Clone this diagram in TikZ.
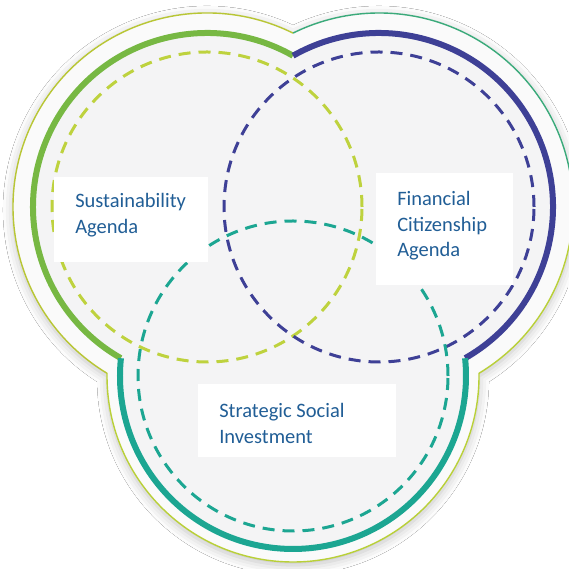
\documentclass[tikz,border=0pt]{standalone}
\usepackage{fontspec}
\setmainfont{Carlito}
\usetikzlibrary{shadows.blur}
\tikzset{
    every picture/.style={
        line width=0.2mm
    },
    % Thick outer segment of each circle
    ring arc/.style={line width=6pt},
    % Inner dashed circle
    ring dash/.style={line width=3pt, dash pattern=on 12pt off 8pt},
    rim line/.style={line width=1.4pt},
    % Style for the white label boxes
    area box/.style={fill=white},
    area label/.style={
        font=\fontsize{20.5}{25.5}\selectfont,
        text=labelBlue,
        align=left,
        anchor=north west,
        inner sep=0pt
    }
}
\definecolor{labelBlue}{RGB}{33,94,150}
\definecolor{rimFill}{RGB}{250,250,250}
\definecolor{innerFill}{RGB}{244,244,245}
\definecolor{rimOlive}{RGB}{184,198,52}
\definecolor{rimLime}{RGB}{185,208,56}
\definecolor{rimGreen}{RGB}{58,170,122}
\definecolor{greenLine}{RGB}{119,184,67}
\definecolor{limeDash}{RGB}{190,210,62}
\definecolor{navyLine}{RGB}{62,64,150}
\definecolor{tealLine}{RGB}{28,166,146}

\begin{document}
\begin{tikzpicture}[x=1pt,y=1pt]

% Set the canvas size
\fill[white] (0,0) rectangle (568,569);
\path[use as bounding box] (0,0) rectangle (568,569);

% Centres of the three circles
\coordinate (sus) at (207,362);
\coordinate (fin) at (379,362);
\coordinate (soc) at (293,193);

% Shaded outer rim
\fill[rimFill, blur shadow={shadow xshift=0pt, shadow yshift=-3pt, shadow blur radius=10pt, shadow opacity=25}]
    (sus) ++(63.7:194) arc[start angle=63.7, end angle=239, radius=194]
    arc[start angle=179.1, end angle=360.9, radius=186]
    arc[start angle=-59, end angle=116.3, radius=194] -- cycle;

\draw[rim line, rimOlive] (sus) ++(63.7:194) arc[start angle=63.7, end angle=239, radius=194];
\draw[rim line, rimLime] (soc) ++(179.1:186) arc[start angle=179.1, end angle=360.9, radius=186];
\draw[rim line, rimLime] (fin) ++(-59:194) arc[start angle=-59, end angle=0, radius=194];
\draw[rim line, rimGreen] (fin) ++(0:194) arc[start angle=0, end angle=116.3, radius=194];

% Light grey inside the thick arcs
\fill[innerFill] (sus) circle[radius=174];
\fill[innerFill] (fin) circle[radius=174];
\fill[innerFill] (soc) circle[radius=173];

% Draw the dashed circles
\draw[ring dash, limeDash] (sus) circle[radius=155];
\draw[ring dash, navyLine] (fin) circle[radius=155];
\draw[ring dash, tealLine] (soc) circle[radius=155];

% Draw the thick outer arcs
\draw[ring arc, greenLine] (sus) ++(60.4:174) arc[start angle=60.4, end angle=240.3, radius=174];
\draw[ring arc, navyLine] (fin) ++(119.6:174) arc[start angle=119.6, end angle=-60.3, radius=174];
\draw[ring arc, tealLine] (soc) ++(174.1:173) arc[start angle=174.1, end angle=365.9, radius=173];

% Label boxes
\fill[area box] (54,307) rectangle (208,392);
\node[area label] (susText) at (75,376) {Sustainability\\Agenda};

\fill[area box] (376,284) rectangle (513,396);
\node[area label] (finText) at (397,378) {Financial\\Citizenship\\Agenda};

\fill[area box] (198,112) rectangle (396,185);
\node[area label] (socText) at (219,166) {Strategic Social\\Investment};

\end{tikzpicture}
\end{document}
